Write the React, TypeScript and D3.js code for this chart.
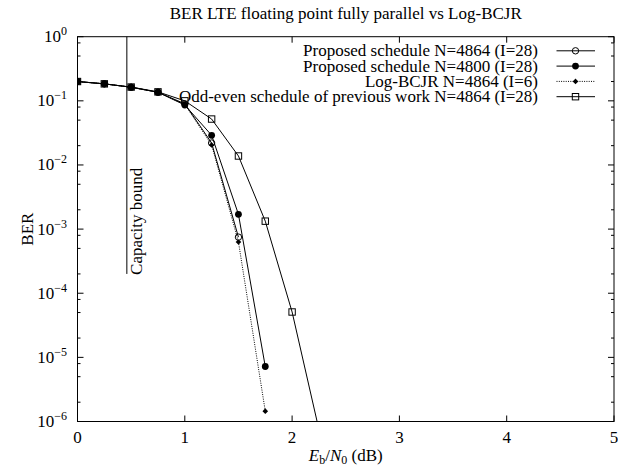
import * as d3 from 'd3';
import React from 'react';

// Eb/N0 points (dB)
const ebn0 = [0, 0.25, 0.5, 0.75, 1, 1.25, 1.5, 1.75, 2, 2.25];
// BER per scheme
const berProposed4864 = [0.2, 0.184, 0.163, 0.136, 0.09, 0.022, 7.5e-4];
const berProposed4800 = [0.2, 0.184, 0.163, 0.136, 0.086, 0.029, 1.7e-3, 7.2e-6];
const berLogBcjr = [0.2, 0.184, 0.163, 0.136, 0.088, 0.0205, 6.3e-4, 1.45e-6];
const berOddEven = [0.2, 0.184, 0.164, 0.138, 0.1, 0.052, 0.0138, 1.33e-3, 5.1e-5, 7.5e-7];

const legendLabels = [
  'Proposed schedule N=4864 (I=28)',
  'Proposed schedule N=4800 (I=28)',
  'Log-BCJR N=4864 (I=6)',
  'Odd-even schedule of previous work N=4864 (I=28)',
];
const xTicks = [0, 1, 2, 3, 4, 5];
const yExponents = [0, -1, -2, -3, -4, -5, -6];
const yMinorMantissas = [2, 5, 8];
const capacityBound = { x: 0.46, top: 1, bottom: 2e-4 };

const W = 618;
const H = 472;
const margin = { top: 36.7, right: 4, bottom: 50.5, left: 77.5 };
const font = '"Liberation Serif", "Times New Roman", serif';

function Marker({ kind, cx, cy }: { kind: string; cx: number; cy: number }) {
  if (kind === 'open') return <circle cx={cx} cy={cy} r={3.2} fill="none" stroke="#000" strokeWidth={1} />;
  if (kind === 'filled') return <circle cx={cx} cy={cy} r={3.4} fill="#000" />;
  if (kind === 'diamond')
    return <path d={`M${cx},${cy - 2.8}L${cx + 2.8},${cy}L${cx},${cy + 2.8}L${cx - 2.8},${cy}Z`} fill="#000" />;
  return <rect x={cx - 3.2} y={cy - 3.2} width={6.4} height={6.4} fill="none" stroke="#000" strokeWidth={1} />;
}

export default function App() {
  const x = d3.scaleLinear().domain([0, 5]).range([margin.left, W - margin.right]);
  const y = d3.scaleLog().domain([1, 1e-6]).range([margin.top, H - margin.bottom]);
  const [x0, x1] = x.range();
  const [y0, y1] = y.range();

  const series = [
    { vals: berProposed4864, kind: 'open', dash: undefined as string | undefined },
    { vals: berProposed4800, kind: 'filled', dash: undefined },
    { vals: berLogBcjr, kind: 'diamond', dash: '1,1.3' },
    { vals: berOddEven, kind: 'square', dash: undefined },
  ];

  const line = d3
    .line<number>()
    .x((_, i) => x(ebn0[i]))
    .y((d) => y(d));

  const minor: number[] = [];
  yExponents.slice(1).forEach((e) => yMinorMantissas.forEach((m) => minor.push(m * Math.pow(10, e))));

  const legendY = (i: number) => 50.8 + i * 15.3;

  return (
    <svg width={W} height={H} style={{ position: 'absolute', left: 0, top: 0, background: '#fff' }} fontFamily={font}>
      <defs>
        <clipPath id="plot">
          <rect x={x0} y={y0} width={x1 - x0} height={y1 - y0} />
        </clipPath>
      </defs>
      <text x={(x0 + x1) / 2} y={19} textAnchor="middle" fontSize={17}>
        BER LTE floating point fully parallel vs Log-BCJR
      </text>

      {/* ticks */}
      <g stroke="#000" strokeWidth={1}>
        {xTicks.map((t) => (
          <g key={'x' + t}>
            <line x1={x(t)} x2={x(t)} y1={y1} y2={y1 - 6} />
            <line x1={x(t)} x2={x(t)} y1={y0} y2={y0 + 6} />
          </g>
        ))}
        {yExponents.map((e) => (
          <g key={'y' + e}>
            <line x1={x0} x2={x0 + 6} y1={y(Math.pow(10, e))} y2={y(Math.pow(10, e))} />
            <line x1={x1} x2={x1 - 6} y1={y(Math.pow(10, e))} y2={y(Math.pow(10, e))} />
          </g>
        ))}
        {minor.map((v, i) => (
          <g key={'m' + i}>
            <line x1={x0} x2={x0 + 3} y1={y(v)} y2={y(v)} />
            <line x1={x1} x2={x1 - 3} y1={y(v)} y2={y(v)} />
          </g>
        ))}
      </g>

      {/* tick labels */}
      {xTicks.map((t) => (
        <text key={'xl' + t} x={x(t)} y={443} textAnchor="middle" fontSize={17}>
          {t}
        </text>
      ))}
      {yExponents.map((e) => (
        <text key={'yl' + e} x={67} y={y(Math.pow(10, e)) + 5.5} textAnchor="end" fontSize={17}>
          <tspan>10</tspan>
          <tspan dy={-7} fontSize={12}>
            {e < 0 ? '\u2212' + -e : String(e)}
          </tspan>
        </text>
      ))}

      {/* axis titles */}
      <text transform={`translate(32.5,${(y0 + y1) / 2}) rotate(-90)`} textAnchor="middle" fontSize={17}>
        BER
      </text>
      <text x={(x0 + x1) / 2} y={461} textAnchor="middle" fontSize={17}>
        <tspan fontStyle="italic">E</tspan>
        <tspan dy={3} fontSize={12}>b</tspan>
        <tspan dy={-3}>/</tspan>
        <tspan fontStyle="italic">N</tspan>
        <tspan dy={3} fontSize={12}>0</tspan>
        <tspan dy={-3}> (dB)</tspan>
      </text>

      {/* capacity bound */}
      <line
        x1={x(capacityBound.x)}
        x2={x(capacityBound.x)}
        y1={y(capacityBound.top)}
        y2={y(capacityBound.bottom)}
        stroke="#000"
        strokeWidth={1}
      />
      <text transform={`translate(142,${y(capacityBound.bottom) + 1}) rotate(-90)`} fontSize={17}>
        Capacity bound
      </text>

      {/* series and legend */}
      {series.map((s, si) => (
        <g key={'s' + si}>
          <g clipPath="url(#plot)">
            <path d={line(s.vals) || ''} fill="none" stroke="#000" strokeWidth={1} strokeDasharray={s.dash} />
            {s.vals.map((v, i) =>
              v >= 1e-6 ? <Marker key={i} kind={s.kind} cx={x(ebn0[i])} cy={y(v)} /> : null
            )}
          </g>
          <text x={538} y={legendY(si) + 5.5} textAnchor="end" fontSize={17}>
            {legendLabels[si]}
          </text>
          <line x1={556.5} x2={595} y1={legendY(si)} y2={legendY(si)} stroke="#000" strokeWidth={1} strokeDasharray={s.dash} />
          <Marker kind={s.kind} cx={575.5} cy={legendY(si)} />
        </g>
      ))}

      {/* frame */}
      <rect x={x0} y={y0} width={x1 - x0} height={y1 - y0} fill="none" stroke="#000" strokeWidth={1} />
    </svg>
  );
}
